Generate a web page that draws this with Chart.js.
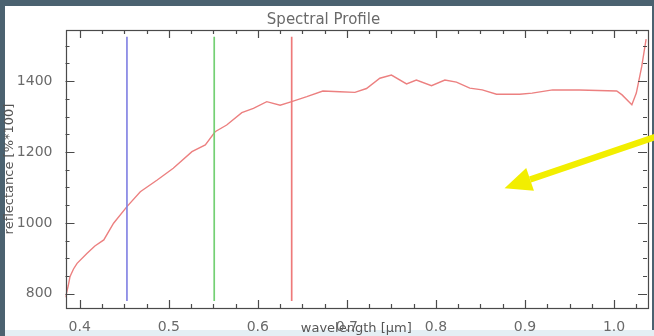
<!DOCTYPE html>
<html>
<head>
<meta charset="utf-8">
<title>Spectral Profile</title>
<script src="https://cdn.jsdelivr.net/npm/chart.js@4/dist/chart.umd.min.js"></script>
<style>
    body { margin: 0; width: 654px; height: 336px; overflow: hidden; background: #4b6270; position: relative; }
    .panel { position: absolute; left: 5px; top: 6px; width: 647px; height: 324px; background: #ffffff; }
    .bottom-strip { position: absolute; left: 5px; top: 330px; width: 649px; height: 6px; background: #e4eff4; }
    #spectrum { position: absolute; left: 0; top: 0; }
</style>
</head>
<body>
<div class="panel"></div>
<div class="bottom-strip"></div>
<canvas id="spectrum" width="654" height="336"></canvas>
<script>
// Spectral profile data (wavelength in µm, reflectance in %*100)

const wavelengths = [
    0.384, 0.387, 0.389, 0.393, 0.397, 0.408, 0.417, 0.427, 0.438, 0.453,
    0.468, 0.487, 0.505, 0.526, 0.541, 0.552, 0.565, 0.582, 0.595, 0.610,
    0.625, 0.638, 0.655, 0.673, 0.692, 0.709, 0.722, 0.737, 0.750, 0.767,
    0.778, 0.795, 0.810, 0.823, 0.838, 0.852, 0.868, 0.894, 0.908, 0.931,
    0.961, 1.003, 1.009, 1.020, 1.025, 1.031, 1.036
];
const reflectance = [
    790, 822, 848, 870, 886, 914, 935, 952, 999, 1046,
    1088, 1121, 1154, 1201, 1220, 1257, 1276, 1311, 1323, 1342,
    1332, 1342, 1356, 1372, 1370, 1368, 1379, 1408, 1417, 1392,
    1403, 1387, 1403, 1397, 1380, 1375, 1363, 1363, 1366, 1375,
    1375, 1372, 1361, 1333, 1366, 1440, 1518
];

// band markers (blue, green, red) and their vertical extent
const bandNames = ['blue', 'green', 'red'];
const bandCenters = [0.453, 0.551, 0.638];
const bandColors = ['#8585e4', '#74d074', '#ee7a7a'];
const bandRange = [780, 1525];

// axes
const xRange = [0.384, 1.037];
const yRange = [760, 1544];
const xMajorTicks = [0.4, 0.5, 0.6, 0.7, 0.8, 0.9, 1.0];
const yMajorTicks = [800, 1000, 1200, 1400];
const xMinorStep = 0.025;
const yMinorStep = 50;

// yellow pointer drawn over the plot (data coordinates)
const arrowFrom = { x: 1.047, y: 1243 };
const arrowTo = { x: 0.877, y: 1098 };

const axisColor = '#4a4a4a';
const textColor = '#6a6a6a';

// IDL style box with inward tick marks on all four sides
const boxTicks = {
    id: 'boxTicks',
    afterDatasetsDraw(chart) {
        const { ctx, chartArea: a, scales: { x, y } } = chart;
        ctx.save();
        ctx.strokeStyle = axisColor;
        ctx.lineWidth = 1.2;
        ctx.strokeRect(Math.round(a.left) + 0.5, Math.round(a.top) + 0.5,
            Math.round(a.right - a.left), Math.round(a.bottom - a.top));

        const xTick = (v, len) => {
            const px = Math.round(x.getPixelForValue(v)) + 0.5;
            ctx.beginPath();
            ctx.moveTo(px, a.bottom); ctx.lineTo(px, a.bottom - len);
            ctx.moveTo(px, a.top); ctx.lineTo(px, a.top + len);
            ctx.stroke();
        };
        const yTick = (v, len) => {
            const py = Math.round(y.getPixelForValue(v)) + 0.5;
            ctx.beginPath();
            ctx.moveTo(a.left, py); ctx.lineTo(a.left + len, py);
            ctx.moveTo(a.right, py); ctx.lineTo(a.right - len, py);
            ctx.stroke();
        };

        const x0 = Math.ceil(xRange[0] / xMinorStep);
        for (let i = x0; i * xMinorStep <= xRange[1]; i++) {
            const v = i * xMinorStep;
            const major = xMajorTicks.some(t => Math.abs(t - v) < 1e-6);
            xTick(v, major ? 8 : 4);
        }
        const y0 = Math.ceil(yRange[0] / yMinorStep);
        for (let i = y0; i * yMinorStep <= yRange[1]; i++) {
            const v = i * yMinorStep;
            yTick(v, yMajorTicks.includes(v) ? 9 : 4);
        }
        ctx.restore();
    },
    afterDraw(chart) {
        const { ctx, scales: { x, y } } = chart;
        const x1 = x.getPixelForValue(arrowFrom.x), y1 = y.getPixelForValue(arrowFrom.y);
        const x2 = x.getPixelForValue(arrowTo.x), y2 = y.getPixelForValue(arrowTo.y);
        const ang = Math.atan2(y2 - y1, x2 - x1);
        const headLen = 27, headHalf = 12;
        const bx = x2 - headLen * Math.cos(ang), by = y2 - headLen * Math.sin(ang);
        ctx.save();
        ctx.strokeStyle = '#f2ee00';
        ctx.fillStyle = '#f2ee00';
        ctx.lineWidth = 6.5;
        ctx.beginPath();
        ctx.moveTo(x1, y1);
        ctx.lineTo(bx, by);
        ctx.stroke();
        ctx.beginPath();
        ctx.moveTo(x2, y2);
        ctx.lineTo(bx + headHalf * Math.sin(ang), by - headHalf * Math.cos(ang));
        ctx.lineTo(bx - headHalf * Math.sin(ang), by + headHalf * Math.cos(ang));
        ctx.closePath();
        ctx.fill();
        ctx.restore();
    }
};

function buildDatasets() {
    const sets = bandCenters.map((c, i) => ({
        label: bandNames[i],
        data: bandRange.map(v => ({ x: c, y: v })),
        borderColor: bandColors[i],
        borderWidth: 1.7,
        pointRadius: 0
    }));
    sets.push({
        label: 'spectrum',
        data: wavelengths.map((w, i) => ({ x: w, y: reflectance[i] })),
        borderColor: '#ec8080',
        borderWidth: 1.4,
        pointRadius: 0,
        tension: 0
    });
    return sets;
}

function renderChart() {
    const ctx = document.getElementById('spectrum').getContext('2d');
    new Chart(ctx, {
        type: 'line',
        data: { datasets: buildDatasets() },
        options: {
            responsive: false,
            animation: false,
            layout: { padding: { left: 0, right: 7, top: 0, bottom: 0 } },
            plugins: {
                legend: { display: false },
                tooltip: { enabled: false },
                title: {
                    display: true,
                    text: 'Spectral Profile',
                    color: textColor,
                    font: { family: 'DejaVu Sans', size: 15, weight: 'normal' },
                    padding: { top: 11, bottom: 1 }
                }
            },
            scales: {
                x: {
                    type: 'linear',
                    min: xRange[0],
                    max: xRange[1],
                    grid: { display: false },
                    border: { display: false },
                    afterBuildTicks: s => { s.ticks = xMajorTicks.map(v => ({ value: v })); },
                    afterFit: s => { s.height = 28; },
                    ticks: {
                        color: textColor,
                        padding: 3,
                        maxRotation: 0,
                        font: { family: 'DejaVu Sans', size: 14 },
                        callback: v => v.toFixed(1)
                    },
                    title: {
                        display: true,
                        text: 'wavelength [µm]',
                        color: '#555555',
                        font: { family: 'DejaVu Sans', size: 13 },
                        padding: { top: 0, bottom: 0 }
                    }
                },
                y: {
                    type: 'linear',
                    min: yRange[0],
                    max: yRange[1],
                    grid: { display: false },
                    border: { display: false },
                    afterBuildTicks: s => { s.ticks = yMajorTicks.map(v => ({ value: v })); },
                    afterFit: s => { s.width = 65.5; },
                    ticks: {
                        color: textColor,
                        padding: 5,
                        font: { family: 'DejaVu Sans', size: 14 },
                        callback: v => String(v)
                    },
                    title: {
                        display: true,
                        text: 'reflectance [%*100]',
                        color: '#555555',
                        font: { family: 'DejaVu Sans', size: 13 },
                        padding: { top: 2, bottom: 0 }
                    }
                }
            }
        },
        plugins: [boxTicks]
    });
}

document.addEventListener('DOMContentLoaded', () => {
    renderChart();
});
</script>
</body>
</html>
